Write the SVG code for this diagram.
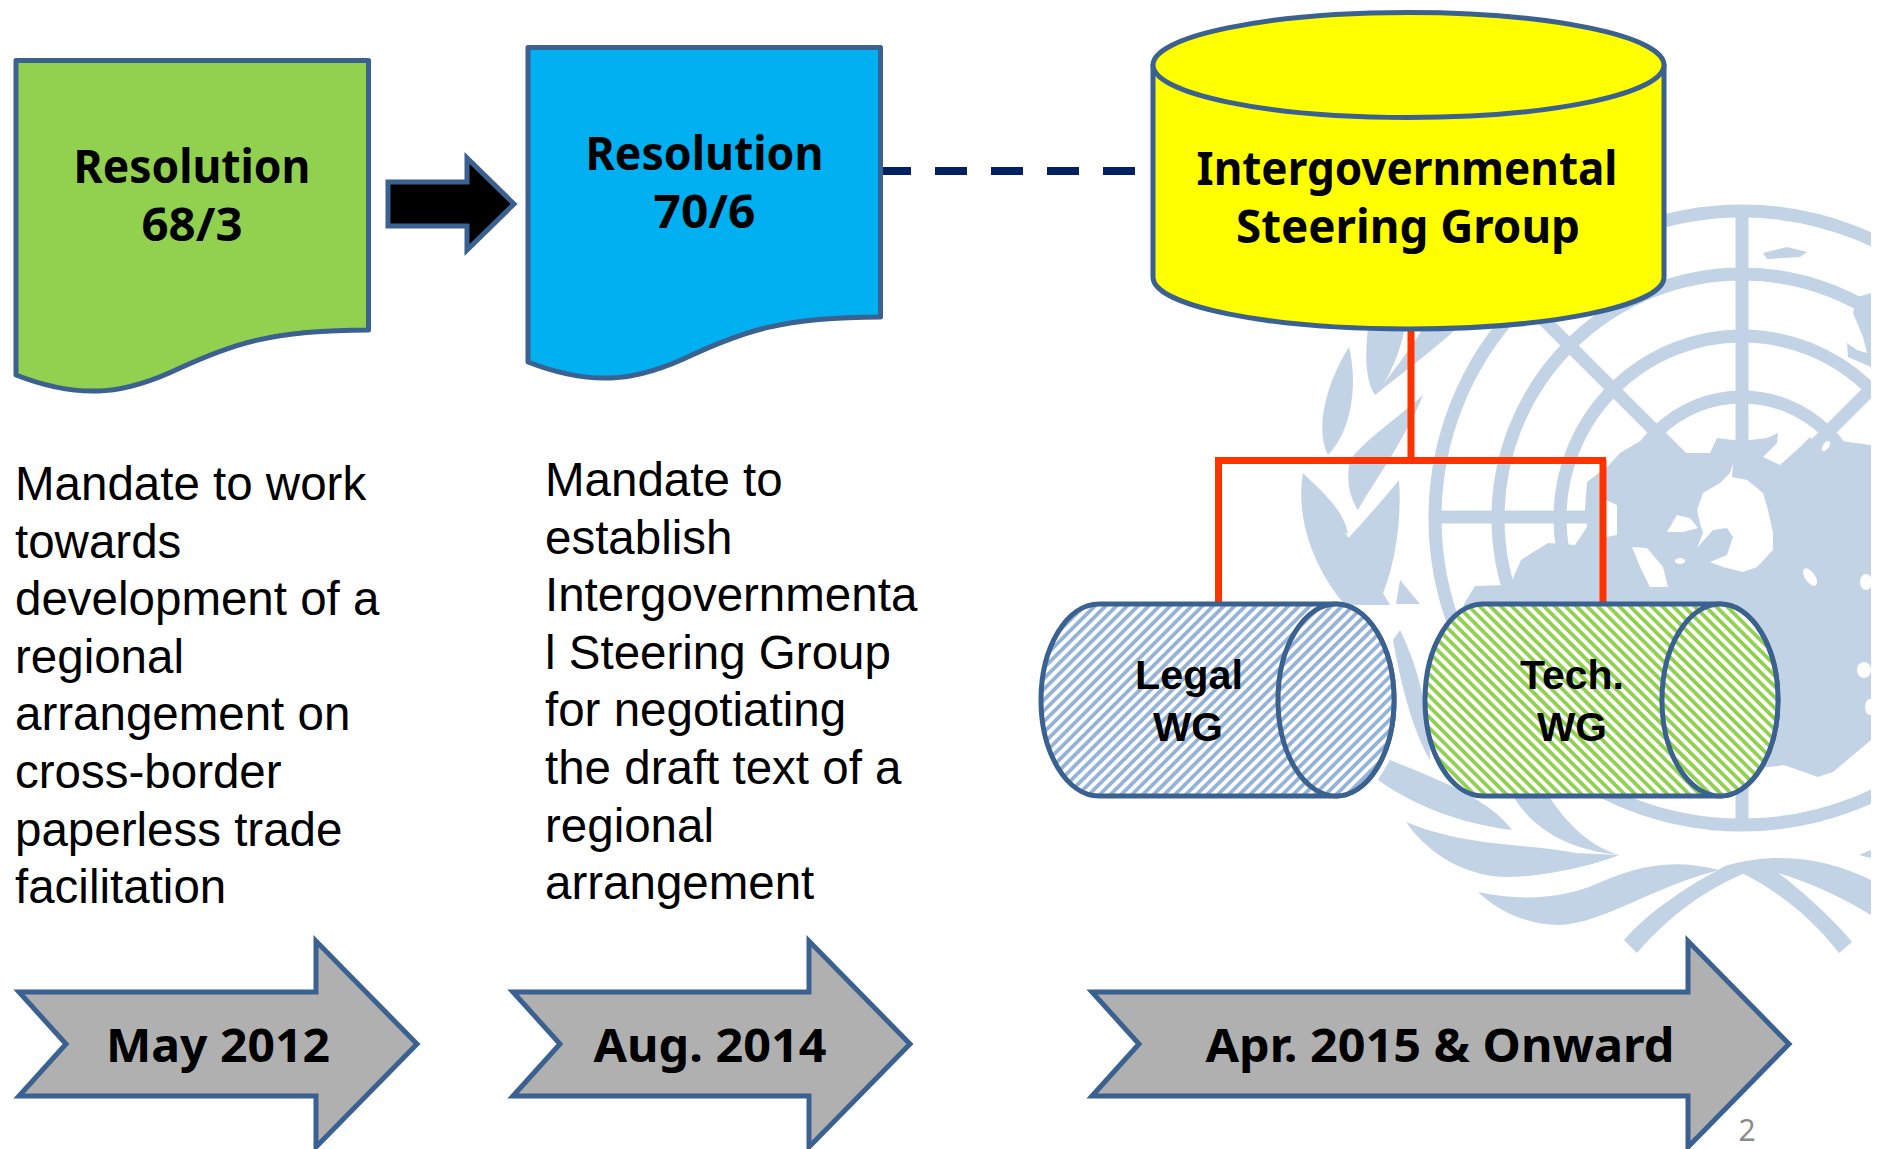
<svg xmlns="http://www.w3.org/2000/svg" width="1881" height="1149" viewBox="0 0 1881 1149">
<style>
.o{stroke:#3b6190;stroke-width:5;stroke-linejoin:round}
.m{stroke-linejoin:miter}
.t{font-family:"Noto Sans","Open Sans",sans-serif;font-weight:700;font-size:46px;fill:#000;text-anchor:middle}
.w{font-family:"Liberation Sans",Arial,sans-serif;font-weight:700;font-size:40px;fill:#000;text-anchor:middle}
.b{font-family:"Liberation Sans",Arial,sans-serif;font-size:47.5px;fill:#000}
.ring{fill:none;stroke:#c3d3e6;stroke-width:13}
.land{fill:#c3d3e6}
.hole{fill:#fff}
.red{stroke:#ff3300;stroke-width:7;fill:none}
.grey{fill:#b0b0b0}
</style>
<defs>
<pattern id="hb" width="7.6" height="7.6" patternUnits="userSpaceOnUse" patternTransform="rotate(45)"><rect width="7.6" height="7.6" fill="#fff"/><rect width="3.8" height="7.6" fill="#95b3d7"/></pattern>
<pattern id="hg" width="7.6" height="7.6" patternUnits="userSpaceOnUse" patternTransform="rotate(-45)"><rect width="7.6" height="7.6" fill="#fff"/><rect width="3.8" height="7.6" fill="#92d050"/></pattern>
<clipPath id="ec"><rect x="1200" y="150" width="671" height="850"/></clipPath>
</defs>
<rect width="1881" height="1149" fill="#fff"/>
<g id="emblem" clip-path="url(#ec)">
<circle class="ring" cx="1742" cy="518" r="307"/>
<circle class="ring" cx="1742" cy="518" r="244"/>
<circle class="ring" cx="1742" cy="518" r="182"/>
<circle class="ring" cx="1742" cy="518" r="121"/>
<path class="ring" d="M1742 211V826M1435 517H2049M1525 301L1959 735M1959 301L1525 735"/>
<path class="land" d="M1587 482L1600 472L1607 467L1620 453L1647 437L1665 437L1680 453L1710 453L1717 438L1733 440L1750 440L1767 438L1778 433L1777 443L1763 457L1780 465L1800 447L1810 437L1815 445L1833 440L1871 445V740L1833 772L1818 777L1778 763L1700 720L1600 640L1575 545L1587 527L1585 510Z"/>
<path class="land" d="M1464 604L1475 586L1510 585L1521 560L1548 543L1575 545L1590 570L1600 604V640H1464Z"/>
<path class="land" d="M1871 293L1857 297L1853 313L1863 337L1867 353L1857 350L1847 343L1848 357L1871 367Z"/>
<path class="land" d="M1763 253L1787 247L1807 252L1800 257L1767 259Z"/>
<path class="hole" d="M1733 463L1732 477L1747 480L1763 493L1768 510L1773 533L1773 550L1757 567L1743 572L1723 567L1710 562L1727 555L1733 537L1727 528L1713 530L1697 548L1703 533L1700 523L1697 510L1703 493L1720 483L1730 473Z"/>
<path class="hole" d="M1667 532L1677 515L1690 518L1698 528L1683 532Z"/>
<path class="hole" d="M1632 547L1647 548L1663 567L1668 587L1650 587L1640 567Z"/>
<path class="hole" d="M1606 500L1617 505L1617 535L1606 537Z"/>
<ellipse class="hole" cx="1680" cy="561" rx="5" ry="3"/>
<ellipse class="hole" cx="1810" cy="577" rx="5" ry="10" transform="rotate(-35 1810 577)"/>
<ellipse class="hole" cx="1826" cy="446" rx="3" ry="6" transform="rotate(35 1826 446)"/>
<ellipse class="hole" cx="1864" cy="670" rx="7" ry="8"/>
<ellipse class="hole" cx="1870" cy="707" rx="5" ry="8"/>
<ellipse class="hole" cx="1866" cy="582" rx="6" ry="8"/>
<path class="land" d="M1349 347C1325 385 1315 430 1328 455C1352 430 1358 385 1349 347Z"/>
<path class="land" d="M1368 328C1365 355 1365 380 1375 395C1385 385 1398 360 1405 328Z"/>
<path class="land" d="M1375 395C1400 375 1440 345 1460 325L1425 325C1410 350 1390 375 1375 395Z"/>
<path class="land" d="M1423 395C1395 420 1365 440 1350 460C1345 485 1352 500 1358 510C1375 480 1405 440 1423 395Z"/>
<path class="land" d="M1303 473C1295 520 1315 570 1345 605L1390 605C1365 560 1335 520 1348 535C1345 510 1320 490 1303 473Z"/>
<path class="land" d="M1399 480C1375 510 1355 530 1347 540C1355 570 1370 590 1378 605C1395 570 1402 520 1399 480Z"/>
<path class="land" d="M1396 604L1400 580L1420 604Z"/>
<path class="land" d="M1393 640C1400 680 1412 730 1430 760C1430 720 1420 670 1400 630Z"/>
<path class="land" d="M1378 780C1420 810 1470 825 1512 830C1490 800 1440 780 1390 760Z"/>
<path class="land" d="M1510 790C1530 830 1570 850 1619 855C1585 845 1560 815 1545 790Z"/>
<path class="land" d="M1406 822C1430 857 1470 877 1507 877C1541 877 1589 867 1619 855L1576 853C1522 843 1467 847 1406 822Z"/>
<path class="land" d="M1478 892C1500 913 1530 925 1559 925C1604 923 1652 887 1719 870C1670 857 1633 867 1589 887C1552 900 1515 900 1478 892Z"/>
<path class="land" d="M1624 940L1637 953C1670 915 1705 890 1745 873L1760 864L1725 866C1690 885 1650 910 1624 940Z"/>
<path class="land" d="M1852 942L1839 953C1810 915 1775 890 1742 873L1730 866L1760 860C1790 880 1830 915 1852 942Z"/>
<path class="land" d="M1725 866C1780 850 1830 860 1871 880V915C1830 890 1790 875 1759 868Z"/>
<path class="land" d="M1859 855L1871 850V858Z"/>
</g>
<g id="connectors">
<path d="M879 171H1136" stroke="#002060" stroke-width="8" stroke-dasharray="32 24" fill="none"/>
<path class="red" d="M1411 328V461M1215 460.5H1606M1218.5 460V604M1603 460V604"/>
<path class="o m" fill="#000" d="M388 182H467V158L514 204L467 250V226H388Z"/>
</g>
<g id="doc-68-3">
<path class="o" fill="#92d050" d="M16 60.5H368.500V330C270 330 230 345 180 368C130 392 85 402 16 375Z"/>
<text class="t" x="192" y="183" textLength="237" lengthAdjust="spacingAndGlyphs">Resolution</text>
<text class="t" x="192" y="241" textLength="101" lengthAdjust="spacingAndGlyphs">68/3</text>
</g>
<g id="doc-70-6">
<path class="o" fill="#00b0f0" d="M528 47.500H880.500V317C782 317 742 332 692 355C642 379 597 389 528 362Z"/>
<text class="t" x="704.500" y="170" textLength="238" lengthAdjust="spacingAndGlyphs">Resolution</text>
<text class="t" x="704.500" y="228" textLength="102" lengthAdjust="spacingAndGlyphs">70/6</text>
</g>
<g id="igsg">
<path class="o" fill="#ffff00" d="M1153 65V277C1153 306 1268 329 1408.500 329C1549 329 1664 306 1664 277V65Z"/>
<ellipse class="o" fill="#ffff00" cx="1408.500" cy="65" rx="255.500" ry="52.500"/>
<text class="t" x="1407" y="185" textLength="421" lengthAdjust="spacingAndGlyphs">Intergovernmental</text>
<text class="t" x="1408" y="243" textLength="344" lengthAdjust="spacingAndGlyphs">Steering Group</text>
</g>
<g id="legal-wg">
<path class="o" fill="url(#hb)" d="M1099 604H1336C1368 604 1394 647 1394 700C1394 753 1368 796 1336 796H1099C1067 796 1041 753 1041 700C1041 647 1067 604 1099 604Z"/>
<ellipse class="o" fill="url(#hb)" cx="1336" cy="700" rx="58" ry="96"/>
<text class="w" x="1189" y="689" textLength="108" lengthAdjust="spacingAndGlyphs">Legal</text>
<text class="w" x="1188" y="741" textLength="70" lengthAdjust="spacingAndGlyphs">WG</text>
</g>
<g id="tech-wg">
<path class="o" fill="url(#hg)" d="M1483 604H1720C1752 604 1778 647 1778 700C1778 753 1752 796 1720 796H1483C1451 796 1425 753 1425 700C1425 647 1451 604 1483 604Z"/>
<ellipse class="o" fill="url(#hg)" cx="1720" cy="700" rx="58" ry="96"/>
<text class="w" x="1572" y="689" textLength="104" lengthAdjust="spacingAndGlyphs">Tech.</text>
<text class="w" x="1572" y="741" textLength="70" lengthAdjust="spacingAndGlyphs">WG</text>
</g>
<g id="mandate-1">
<text class="b" x="15" y="500">Mandate to work</text>
<text class="b" x="15" y="557.600">towards</text>
<text class="b" x="15" y="615.200">development of a</text>
<text class="b" x="15" y="672.800">regional</text>
<text class="b" x="15" y="730.400">arrangement on</text>
<text class="b" x="15" y="788">cross-border</text>
<text class="b" x="15" y="845.600">paperless trade</text>
<text class="b" x="15" y="903.200">facilitation</text>
</g>
<g id="mandate-2">
<text class="b" x="545" y="496">Mandate to</text>
<text class="b" x="545" y="553.600">establish</text>
<text class="b" x="545" y="611.200">Intergovernmenta</text>
<text class="b" x="545" y="668.800">l Steering Group</text>
<text class="b" x="545" y="726.400">for negotiating</text>
<text class="b" x="545" y="784">the draft text of a</text>
<text class="b" x="545" y="841.600">regional</text>
<text class="b" x="545" y="899.200">arrangement</text>
</g>
<g id="date-may-2012">
<path class="o m grey" d="M19 992H316V941L417 1044L316 1147V1096H19L66 1044Z"/>
<text class="t" x="218" y="1062" textLength="224" lengthAdjust="spacingAndGlyphs">May 2012</text>
</g>
<g id="date-aug-2014">
<path class="o m grey" d="M513 992H809V941L910 1044L809 1147V1096H513L560 1044Z"/>
<text class="t" x="710" y="1062" textLength="233" lengthAdjust="spacingAndGlyphs">Aug. 2014</text>
</g>
<g id="date-apr-2015">
<path class="o m grey" d="M1092 992H1688V941L1789 1044L1688 1147V1096H1092L1139 1044Z"/>
<text class="t" x="1440" y="1062" textLength="469" lengthAdjust="spacingAndGlyphs">Apr. 2015 &amp; Onward</text>
</g>
<text x="1747" y="1141" font-family="Noto Sans, sans-serif" font-size="30" fill="#8b8b8b" text-anchor="middle">2</text>
</svg>
